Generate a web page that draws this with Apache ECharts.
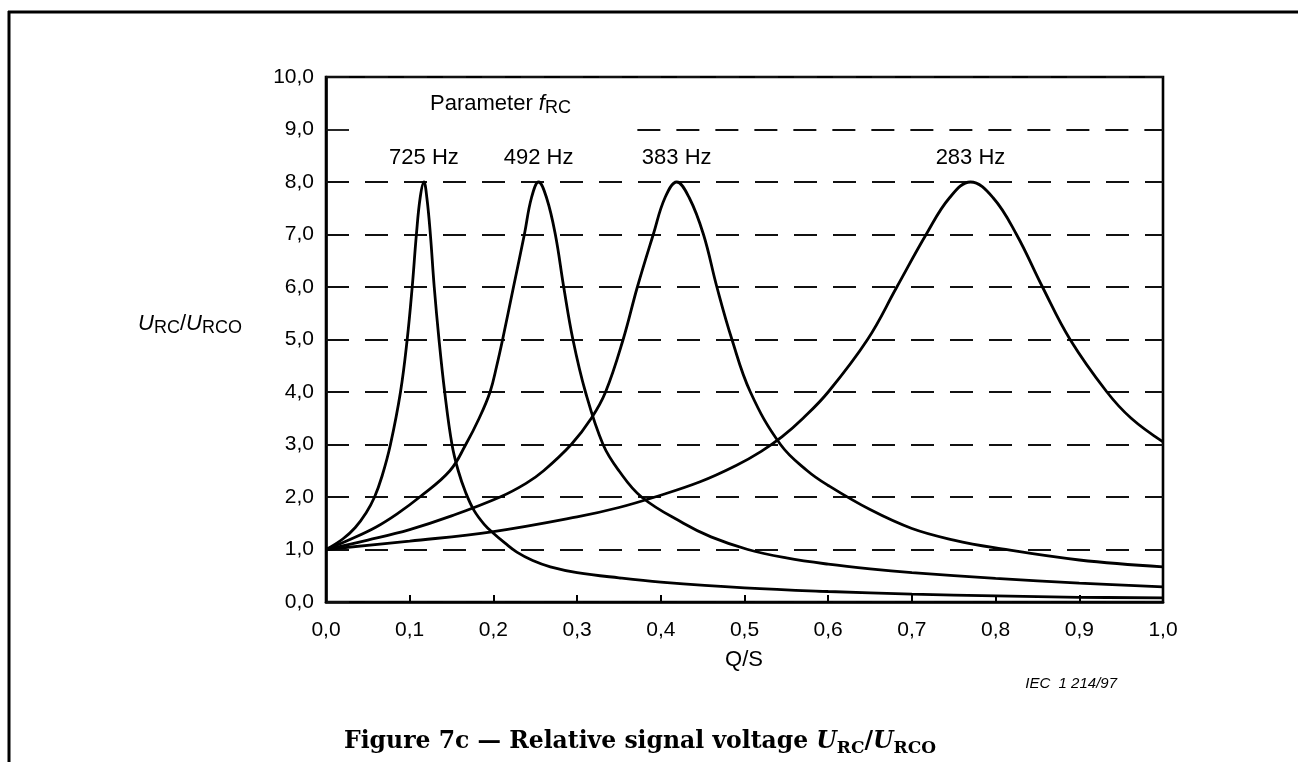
<!DOCTYPE html>
<html>
<head>
<meta charset="utf-8">
<script src="https://cdn.jsdelivr.net/npm/echarts@6/dist/echarts.min.js"></script>
<style>html,body{margin:0;padding:0;background:#fff}#c{width:1298px;height:762px}</style>
</head>
<body>
<div id="c"></div>
<script>
// ---- data ----
const peakLabels = ['725 Hz', '492 Hz', '383 Hz', '283 Hz'];
const yTickValues = [0, 1, 2, 3, 4, 5, 6, 7, 8, 9, 10];

const q725 = [0, 0.02, 0.035, 0.048, 0.058, 0.067, 0.077, 0.089, 0.097, 0.103, 0.108, 0.1125, 0.117, 0.1205, 0.1247, 0.1293, 0.135, 0.1418, 0.1505, 0.158, 0.167, 0.177, 0.189, 0.2, 0.214, 0.228, 0.247, 0.268, 0.3, 0.35, 0.4, 0.5, 0.6, 0.7, 0.8, 0.9, 1.0];
const u725 = [1.0, 1.2, 1.42, 1.7, 2.0, 2.4, 3.0, 4.0, 5.0, 6.0, 7.0, 7.7, 8.0, 7.7, 7.0, 6.0, 5.0, 4.0, 3.0, 2.5, 2.08, 1.74, 1.48, 1.31, 1.12, 0.95, 0.79, 0.67, 0.56, 0.46, 0.38, 0.27, 0.2, 0.15, 0.115, 0.09, 0.08];

const q492 = [0, 0.03, 0.06, 0.085, 0.112, 0.148, 0.167, 0.183, 0.196, 0.204, 0.211, 0.224, 0.237, 0.2455, 0.254, 0.2635, 0.274, 0.284, 0.295, 0.31, 0.331, 0.35, 0.377, 0.427, 0.46, 0.504, 0.55, 0.6, 0.65, 0.7, 0.8, 0.9, 1.0];
const u492 = [1.0, 1.2, 1.43, 1.68, 2.0, 2.5, 3.0, 3.5, 4.0, 4.5, 5.0, 6.0, 7.0, 7.7, 8.0, 7.7, 7.0, 6.0, 5.0, 4.0, 3.0, 2.5, 2.0, 1.5, 1.24, 1.0, 0.84, 0.72, 0.63, 0.56, 0.45, 0.36, 0.29];

const q383 = [0, 0.05, 0.1, 0.15, 0.208, 0.239, 0.26, 0.293, 0.317, 0.334, 0.355, 0.372, 0.391, 0.405, 0.419, 0.434, 0.451, 0.467, 0.485, 0.507, 0.543, 0.575, 0.6, 0.65, 0.7, 0.75, 0.8, 0.9, 1.0];
const u383 = [1.0, 1.18, 1.38, 1.64, 2.0, 2.26, 2.5, 3.0, 3.5, 4.0, 5.0, 6.0, 7.0, 7.7, 8.0, 7.7, 7.0, 6.0, 5.0, 4.0, 3.0, 2.5, 2.22, 1.76, 1.4, 1.18, 1.03, 0.8, 0.67];

const q283 = [0, 0.1, 0.2, 0.3, 0.35, 0.393, 0.447, 0.49, 0.52, 0.545, 0.57, 0.6, 0.647, 0.682, 0.717, 0.745, 0.77, 0.797, 0.825, 0.856, 0.889, 0.933, 0.962, 1.0];
const u283 = [1.0, 1.16, 1.34, 1.62, 1.8, 2.0, 2.29, 2.6, 2.87, 3.15, 3.5, 4.0, 5.0, 6.0, 7.0, 7.7, 8.0, 7.7, 7.0, 6.0, 5.0, 4.0, 3.5, 3.05];

// ---- build ----
const curves = [
  {q: q725, u: u725, label: peakLabels[0]},
  {q: q492, u: u492, label: peakLabels[1]},
  {q: q383, u: u383, label: peakLabels[2]},
  {q: q283, u: u283, label: peakLabels[3]}
];

function comma(v) { return Number(v).toFixed(1).replace('.', ','); }
const sansFont = 'Liberation Sans, Arial, sans-serif';

const chart = echarts.init(document.getElementById('c'), null, {renderer: 'canvas'});

const series = curves.map(function (c, idx) {
  let peakIdx = 0;
  c.u.forEach(function (v, i) { if (v > c.u[peakIdx]) peakIdx = i; });
  const s = {
    type: 'line',
    data: c.q.map(function (x, i) { return [x, c.u[i]]; }),
    smooth: 0.4, showSymbol: false, symbol: 'none',
    lineStyle: {color: '#000', width: 2.8}, silent: true, z: 3,
    markPoint: {
      silent: true, symbol: 'circle', symbolSize: 0,
      itemStyle: {color: 'rgba(0,0,0,0)'},
      label: {
        show: true, position: 'top', distance: 13, formatter: c.label,
        fontFamily: sansFont, fontSize: 22, lineHeight: 22, color: '#000'
      },
      data: [{coord: [c.q[peakIdx], c.u[peakIdx]]}]
    }
  };
  if (idx === 0) {
    s.markLine = {
      silent: true, symbol: 'none', label: {show: false},
      lineStyle: {color: '#111', width: 1.8, type: [23, 16]},
      data: [[{coord: [0.372, 9]}, {coord: [1, 9]}]]
    };
  }
  return s;
});

const splitColors = yTickValues.map(function (v) { return v === 9 ? 'rgba(0,0,0,0)' : '#111'; });

const subRich = {
  n: {fontFamily: sansFont, fontSize: 22, lineHeight: 26, fill: '#000'},
  i: {fontFamily: sansFont, fontSize: 22, fontStyle: 'italic', lineHeight: 26, fill: '#000'},
  s: {fontFamily: sansFont, fontSize: 18, lineHeight: 18, padding: [9, 0, 0, 0], fill: '#000'}
};

chart.setOption({
  animation: false,
  backgroundColor: '#fff',
  grid: {left: 326, top: 77, right: 135, bottom: 160, show: true, borderColor: '#000', borderWidth: 2.6, backgroundColor: 'transparent'},
  xAxis: {
    type: 'value', min: 0, max: 1, interval: 0.1,
    axisLine: {show: true, lineStyle: {color: '#000', width: 2.6}},
    axisTick: {show: true, inside: true, length: 7, lineStyle: {color: '#000', width: 2}},
    axisLabel: {formatter: comma, fontFamily: sansFont, fontSize: 21, color: '#000', margin: 18},
    splitLine: {show: false}
  },
  yAxis: {
    type: 'value', min: 0, max: 10, interval: 1,
    axisLine: {show: true, lineStyle: {color: '#000', width: 2.6}},
    axisTick: {show: true, inside: true, length: 23, lineStyle: {color: '#111', width: 1.8}},
    axisLabel: {formatter: comma, fontFamily: sansFont, fontSize: 21, color: '#000', margin: 12},
    splitLine: {show: true, lineStyle: {color: splitColors, width: 1.8, type: [23, 16]}}
  },
  series: series,
  graphic: [
    {type: 'line', shape: {x1: 8, y1: 12, x2: 1298, y2: 12}, style: {stroke: '#000', lineWidth: 3}, silent: true},
    {type: 'line', shape: {x1: 9, y1: 11, x2: 9, y2: 762}, style: {stroke: '#000', lineWidth: 3}, silent: true},
    {
      type: 'text', left: 430, top: 90, silent: true,
      style: {text: '{n|Parameter }{i|f}{s|RC}', rich: subRich}
    },
    {
      type: 'text', left: 138, top: 310, silent: true,
      style: {text: '{i|U}{s|RC}{n|/}{i|U}{s|RCO}', rich: subRich}
    },
    {
      type: 'text', x: 744, y: 660, silent: true,
      style: {text: 'Q/S', fontFamily: sansFont, fontSize: 22, fill: '#000', textAlign: 'center', textVerticalAlign: 'middle'}
    },
    {
      type: 'text', x: 1117, y: 684, silent: true,
      style: {text: 'IEC  1 214/97', fontFamily: sansFont, fontSize: 15, fontStyle: 'italic', fill: '#000', textAlign: 'right', textVerticalAlign: 'middle'}
    },
    {
      type: 'text', x: 640, y: 742, silent: true,
      style: {
        text: '{b|Figure 7c \u2014 Relative signal voltage }{bi|U}{bs|RC}{b|/}{bi|U}{bs|RCO}',
        textAlign: 'center', textVerticalAlign: 'middle',
        rich: {
          b: {fontFamily: 'DejaVu Serif, serif', fontWeight: 'bold', fontSize: 23.5, lineHeight: 30, fill: '#000'},
          bi: {fontFamily: 'DejaVu Serif, serif', fontWeight: 'bold', fontStyle: 'italic', fontSize: 23.5, lineHeight: 30, fill: '#000'},
          bs: {fontFamily: 'DejaVu Serif, serif', fontWeight: 'bold', fontSize: 17, lineHeight: 17, padding: [13, 0, 0, 0], fill: '#000'}
        }
      }
    }
  ]
});
</script>
</body>
</html>
